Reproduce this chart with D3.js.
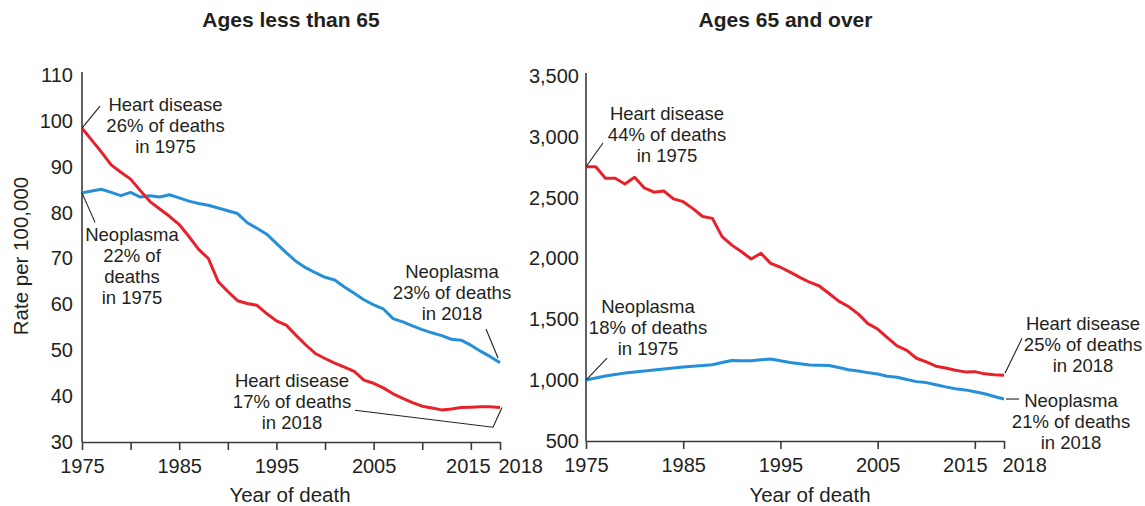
<!DOCTYPE html>
<html>
<head>
<meta charset="utf-8">
<script src="https://cdn.jsdelivr.net/npm/d3@7"></script>
<style>
  html, body { margin: 0; padding: 0; background: #fff; }
  svg { display: block; font-family: "Liberation Sans", Arial, Helvetica, sans-serif; }
</style>
</head>
<body>
<svg id="chart" width="1145" height="506"></svg>
<script>
// ---------------- data ----------------
const years = [1975,1976,1977,1978,1979,1980,1981,1982,1983,1984,1985,1986,1987,1988,1989,
  1990,1991,1992,1993,1994,1995,1996,1997,1998,1999,2000,2001,2002,2003,2004,2005,2006,
  2007,2008,2009,2010,2011,2012,2013,2014,2015,2016,2017,2018];

// Ages less than 65
const youngHeart = [98.4,95.8,93.2,90.4,88.8,87.3,84.8,82.4,80.8,79.2,77.4,74.8,72.0,70.0,65.0,
  62.8,60.8,60.2,59.8,58.0,56.4,55.5,53.3,51.2,49.3,48.2,47.2,46.3,45.4,43.5,42.8,41.8,
  40.5,39.5,38.6,37.8,37.4,37.0,37.2,37.5,37.6,37.7,37.7,37.5];
const youngNeo = [84.3,84.7,85.1,84.4,83.7,84.4,83.4,83.7,83.4,83.9,83.2,82.5,82.0,81.6,81.0,
  80.4,79.8,77.8,76.6,75.3,73.3,71.3,69.4,68.0,66.9,65.9,65.3,63.8,62.4,61.0,59.9,59.0,
  56.9,56.2,55.3,54.5,53.8,53.2,52.4,52.2,51.1,49.8,48.6,47.3];

// Ages 65 and over
const oldHeart = [2754,2754,2660,2659,2612,2667,2580,2545,2555,2490,2467,2410,2345,2330,2180,
  2110,2055,1996,2043,1960,1928,1888,1845,1805,1774,1712,1650,1605,1545,1465,1420,1350,
  1281,1245,1180,1150,1115,1100,1082,1068,1070,1052,1045,1040];
const oldNeo = [1001,1018,1034,1046,1058,1068,1076,1084,1092,1100,1108,1115,1120,1127,1145,
  1162,1160,1160,1168,1174,1160,1146,1135,1124,1122,1121,1104,1086,1075,1062,1050,1032,
  1024,1005,988,980,962,945,930,920,905,888,866,845];

const panelTitles = ["Ages less than 65", "Ages 65 and over"];
const leftYTicks = [30,40,50,60,70,80,90,100,110];
const rightYTicks = [500,1000,1500,2000,2500,3000,3500];
const leftXTicks = [1975,1980,1985,1990,1995,2000,2005,2010,2015,2018];
const leftXLabels = [1975,1985,1995,2005,2015,2018];
const rightXTicks = [1975,1985,1995,2005,2015,2018];
const yTitle = "Rate per 100,000";
const xTitle = "Year of death";

const leftNotes = [
  ["Heart disease", "26% of deaths", "in 1975"],
  ["Neoplasma", "22% of", "deaths", "in 1975"],
  ["Neoplasma", "23% of deaths", "in 2018"],
  ["Heart disease", "17% of deaths", "in 2018"]
];
const rightNotes = [
  ["Heart disease", "44% of deaths", "in 1975"],
  ["Neoplasma", "18% of deaths", "in 1975"],
  ["Heart disease", "25% of deaths", "in 2018"],
  ["Neoplasma", "21% of deaths", "in 2018"]
];

// ---------------- drawing ----------------
const RED = "#e8212b", BLUE = "#2590d8", INK = "#231f20", AXIS = "#3a3a3a";
const svg = d3.select("#chart");

function panel(cfg) {
  const x = d3.scaleLinear().domain([1975, 2018]).range(cfg.xRange);
  const y = d3.scaleLinear().domain(cfg.yDomain).range(cfg.yRange);
  const g = svg.append("g");

  // title
  g.append("text").attr("x", cfg.titleX).attr("y", 27)
    .attr("text-anchor", "middle").attr("font-size", 21).attr("font-weight", "bold")
    .attr("fill", INK).text(cfg.title);

  // y axis
  const ya = g.append("g").attr("transform", `translate(${cfg.xRange[0]},0)`)
    .call(d3.axisLeft(y).tickValues(cfg.yTicks).tickSize(0).tickPadding(cfg.yPad)
      .tickFormat(cfg.yFmt));
  ya.select(".domain").remove();
  ya.selectAll("text").attr("font-size", 20).attr("fill", INK).attr("font-family", null);
  g.append("line").attr("x1", x(1975)).attr("x2", x(1975))
    .attr("y1", y(cfg.yDomain[1]) - 3).attr("y2", y(cfg.yDomain[0]))
    .attr("stroke", AXIS).attr("stroke-width", 1.6);

  // x axis
  const xa = g.append("g").attr("transform", `translate(0,${cfg.yRange[0]})`)
    .call(d3.axisBottom(x).tickValues(cfg.xTicks).tickSize(8).tickPadding(9)
      .tickSizeOuter(0)
      .tickFormat(d => cfg.xLabels.includes(d) ? String(d) : ""));
  xa.select(".domain").attr("stroke", AXIS).attr("stroke-width", 1.6);
  xa.selectAll(".tick line").attr("stroke", AXIS).attr("stroke-width", 1.6);
  xa.selectAll("text").attr("font-size", 20).attr("fill", INK).attr("font-family", null)
    .attr("text-anchor", d => d === 2018 ? "start" : "middle")
    .attr("dx", d => d === 2018 ? -2 : (d === 2015 ? cfg.dx2015 : 0));

  // x title
  g.append("text").attr("x", cfg.xTitleX).attr("y", 502).attr("text-anchor", "middle")
    .attr("font-size", 20.5).attr("fill", INK).text(xTitle);

  // lines
  const line = d3.line().x((d, i) => x(years[i])).y(d => y(d));
  g.append("path").datum(cfg.neo).attr("d", line).attr("fill", "none")
    .attr("stroke", BLUE).attr("stroke-width", 3).attr("stroke-linejoin", "round");
  g.append("path").datum(cfg.heart).attr("d", line).attr("fill", "none")
    .attr("stroke", RED).attr("stroke-width", 3).attr("stroke-linejoin", "round");

  // annotations
  cfg.notes.forEach((n, k) => {
    const lay = cfg.noteLayout[k];
    const series = lay.series === "heart" ? cfg.heart : cfg.neo;
    const idx = lay.end ? series.length - 1 : 0;
    const ax = x(years[idx]), ay = y(series[idx]);
    g.append("path")
      .attr("d", d3.line()(lay.leader.map(p => [ax + p[0], ay + p[1]])))
      .attr("fill", "none").attr("stroke", INK).attr("stroke-width", 1.1);
    const t = g.append("text").attr("text-anchor", "middle").attr("font-size", 18.5)
      .attr("fill", INK);
    n.forEach((s, j) => {
      t.append("tspan").attr("x", ax + lay.tx).attr("y", ay + lay.ty + j * 21).text(s);
    });
  });
}

panel({
  title: panelTitles[0], titleX: 291,
  xRange: [82, 500], yDomain: [30, 110], yRange: [442, 75],
  yTicks: leftYTicks, yPad: 9, yFmt: d3.format("d"),
  xTicks: leftXTicks, xLabels: leftXLabels, dx2015: -3, xTitleX: 290,
  heart: youngHeart, neo: youngNeo, notes: leftNotes,
  noteLayout: [
    { series: "heart", end: false, leader: [[0, 0], [18, -22]], tx: 83.5, ty: -17.5 },
    { series: "neo", end: false, leader: [[0, 0], [13, 29.5]], tx: 50, ty: 48.5 },
    { series: "neo", end: true, leader: [[-14, -33.6], [-2, -4.6]], tx: -48, ty: -84.6 },
    { series: "heart", end: true, leader: [[-145, 2.6], [-7, 19.6], [2, 0]], tx: -208, ty: -20.4 }
  ]
});

panel({
  title: panelTitles[1], titleX: 785.5,
  xRange: [586, 1004], yDomain: [500, 3500], yRange: [441, 76],
  yTicks: rightYTicks, yPad: 7, yFmt: d3.format(","),
  xTicks: rightXTicks, xLabels: rightXTicks, dx2015: -10, xTitleX: 810,
  heart: oldHeart, neo: oldNeo, notes: rightNotes,
  noteLayout: [
    { series: "heart", end: false, leader: [[0, 0], [17, -23.8]], tx: 81, ty: -46.8 },
    { series: "neo", end: false, leader: [[0, 0], [21, -22]], tx: 62, ty: -67 },
    { series: "heart", end: true, leader: [[1, -2], [18, -37]], tx: 79, ty: -45.3 },
    { series: "neo", end: true, leader: [[2, 0], [15, 0]], tx: 67, ty: 8 }
  ]
});

// y-axis title (left)
svg.append("text").attr("transform", "translate(28,256) rotate(-90)")
  .attr("text-anchor", "middle").attr("font-size", 20.5).attr("fill", INK).text(yTitle);
</script>
</body>
</html>
